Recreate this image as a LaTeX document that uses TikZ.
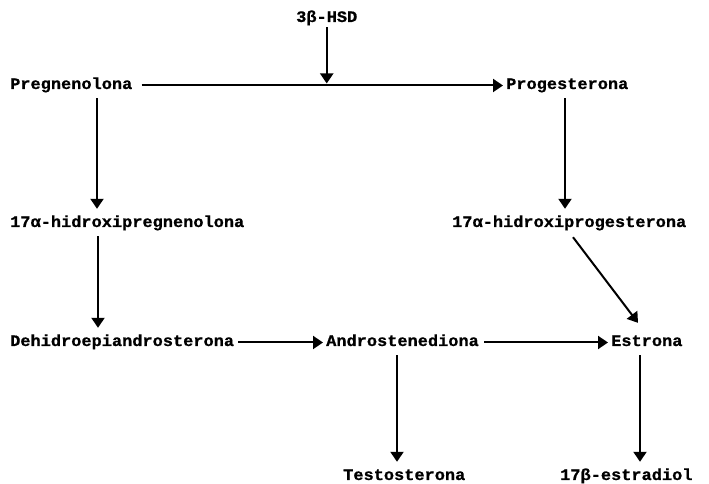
\documentclass[tikz,border=0pt]{standalone}
\usepackage{fontspec}
\newfontfamily\mono[FakeStretch=1.06, FakeBold=0.8]{Liberation Mono}
\usetikzlibrary{arrows.meta, positioning}

\begin{document}
\begin{tikzpicture}[x=1pt, y=1pt,
		compuesto/.style = {inner sep=0pt, text height=10pt, text depth=3pt, anchor=base west,
			font=\mono\bfseries\fontsize{16}{18}\selectfont},
		flecha/.style = {line width=2pt, -{Triangle[width=13pt, length=10pt]}},
		baja/.style = {flecha, shorten <=6pt, shorten >=8pt}]
		\useasboundingbox (0,0) rectangle (709,484);

		\node [compuesto] (preg) at (10,395) {Pregnenolona};
		\node [right = 496pt of preg.base west, compuesto] (prog) {Progesterona};
		\node [above right = 67pt and 286pt of preg.base west, compuesto] (hsd) {3β-HSD};
		\node [below = 138pt of preg.base west, compuesto] (hpreg) {17α-hidroxipregnenolona};
		\node [below left = 138pt and 54pt of prog.base west, compuesto] (hprog) {17α-hidroxiprogesterona};
		\node [below = 119pt of hpreg.base west, compuesto] (dhea) {Dehidroepiandrosterona};
		\node [right = 316pt of dhea.base west, compuesto] (andro) {Androstenediona};
		\node [right = 285pt of andro.base west, compuesto] (estrona) {Estrona};
		\node [below right = 134pt and 17pt of andro.base west, compuesto] (testo) {Testosterona};
		\node [below left = 134pt and 51pt of estrona.base west, compuesto] (estradiol) {17β-estradiol};

		\coordinate (union) at (hsd |- preg);

		\draw [flecha, shorten <=9pt, shorten >=3pt] (preg) -- (prog);
		\draw [flecha, shorten <=2pt, shorten >=2pt] (hsd) -- (union);
		\draw [baja] ([xshift=87pt]preg.south west) -- ([xshift=87pt]hpreg.north west);
		\draw [baja] ([xshift=59pt]prog.south west) -- ([xshift=113pt]hprog.north west);
		\draw [baja] ([xshift=88pt]hpreg.south west) -- ([xshift=88pt]dhea.north west);
		\draw [flecha] ([xshift=121pt, yshift=-7pt]hprog.south west) -- ([xshift=27pt, yshift=13pt]estrona.north west);
		\draw [flecha, shorten <=4pt, shorten >=3pt] (dhea) -- (andro);
		\draw [flecha, shorten <=5pt, shorten >=3pt] (andro) -- (estrona);
		\draw [baja] ([xshift=71pt]andro.south west) -- ([xshift=54pt]testo.north west);
		\draw [baja] ([xshift=29pt]estrona.south west) -- ([xshift=80pt]estradiol.north west);

	\end{tikzpicture}
\end{document}
